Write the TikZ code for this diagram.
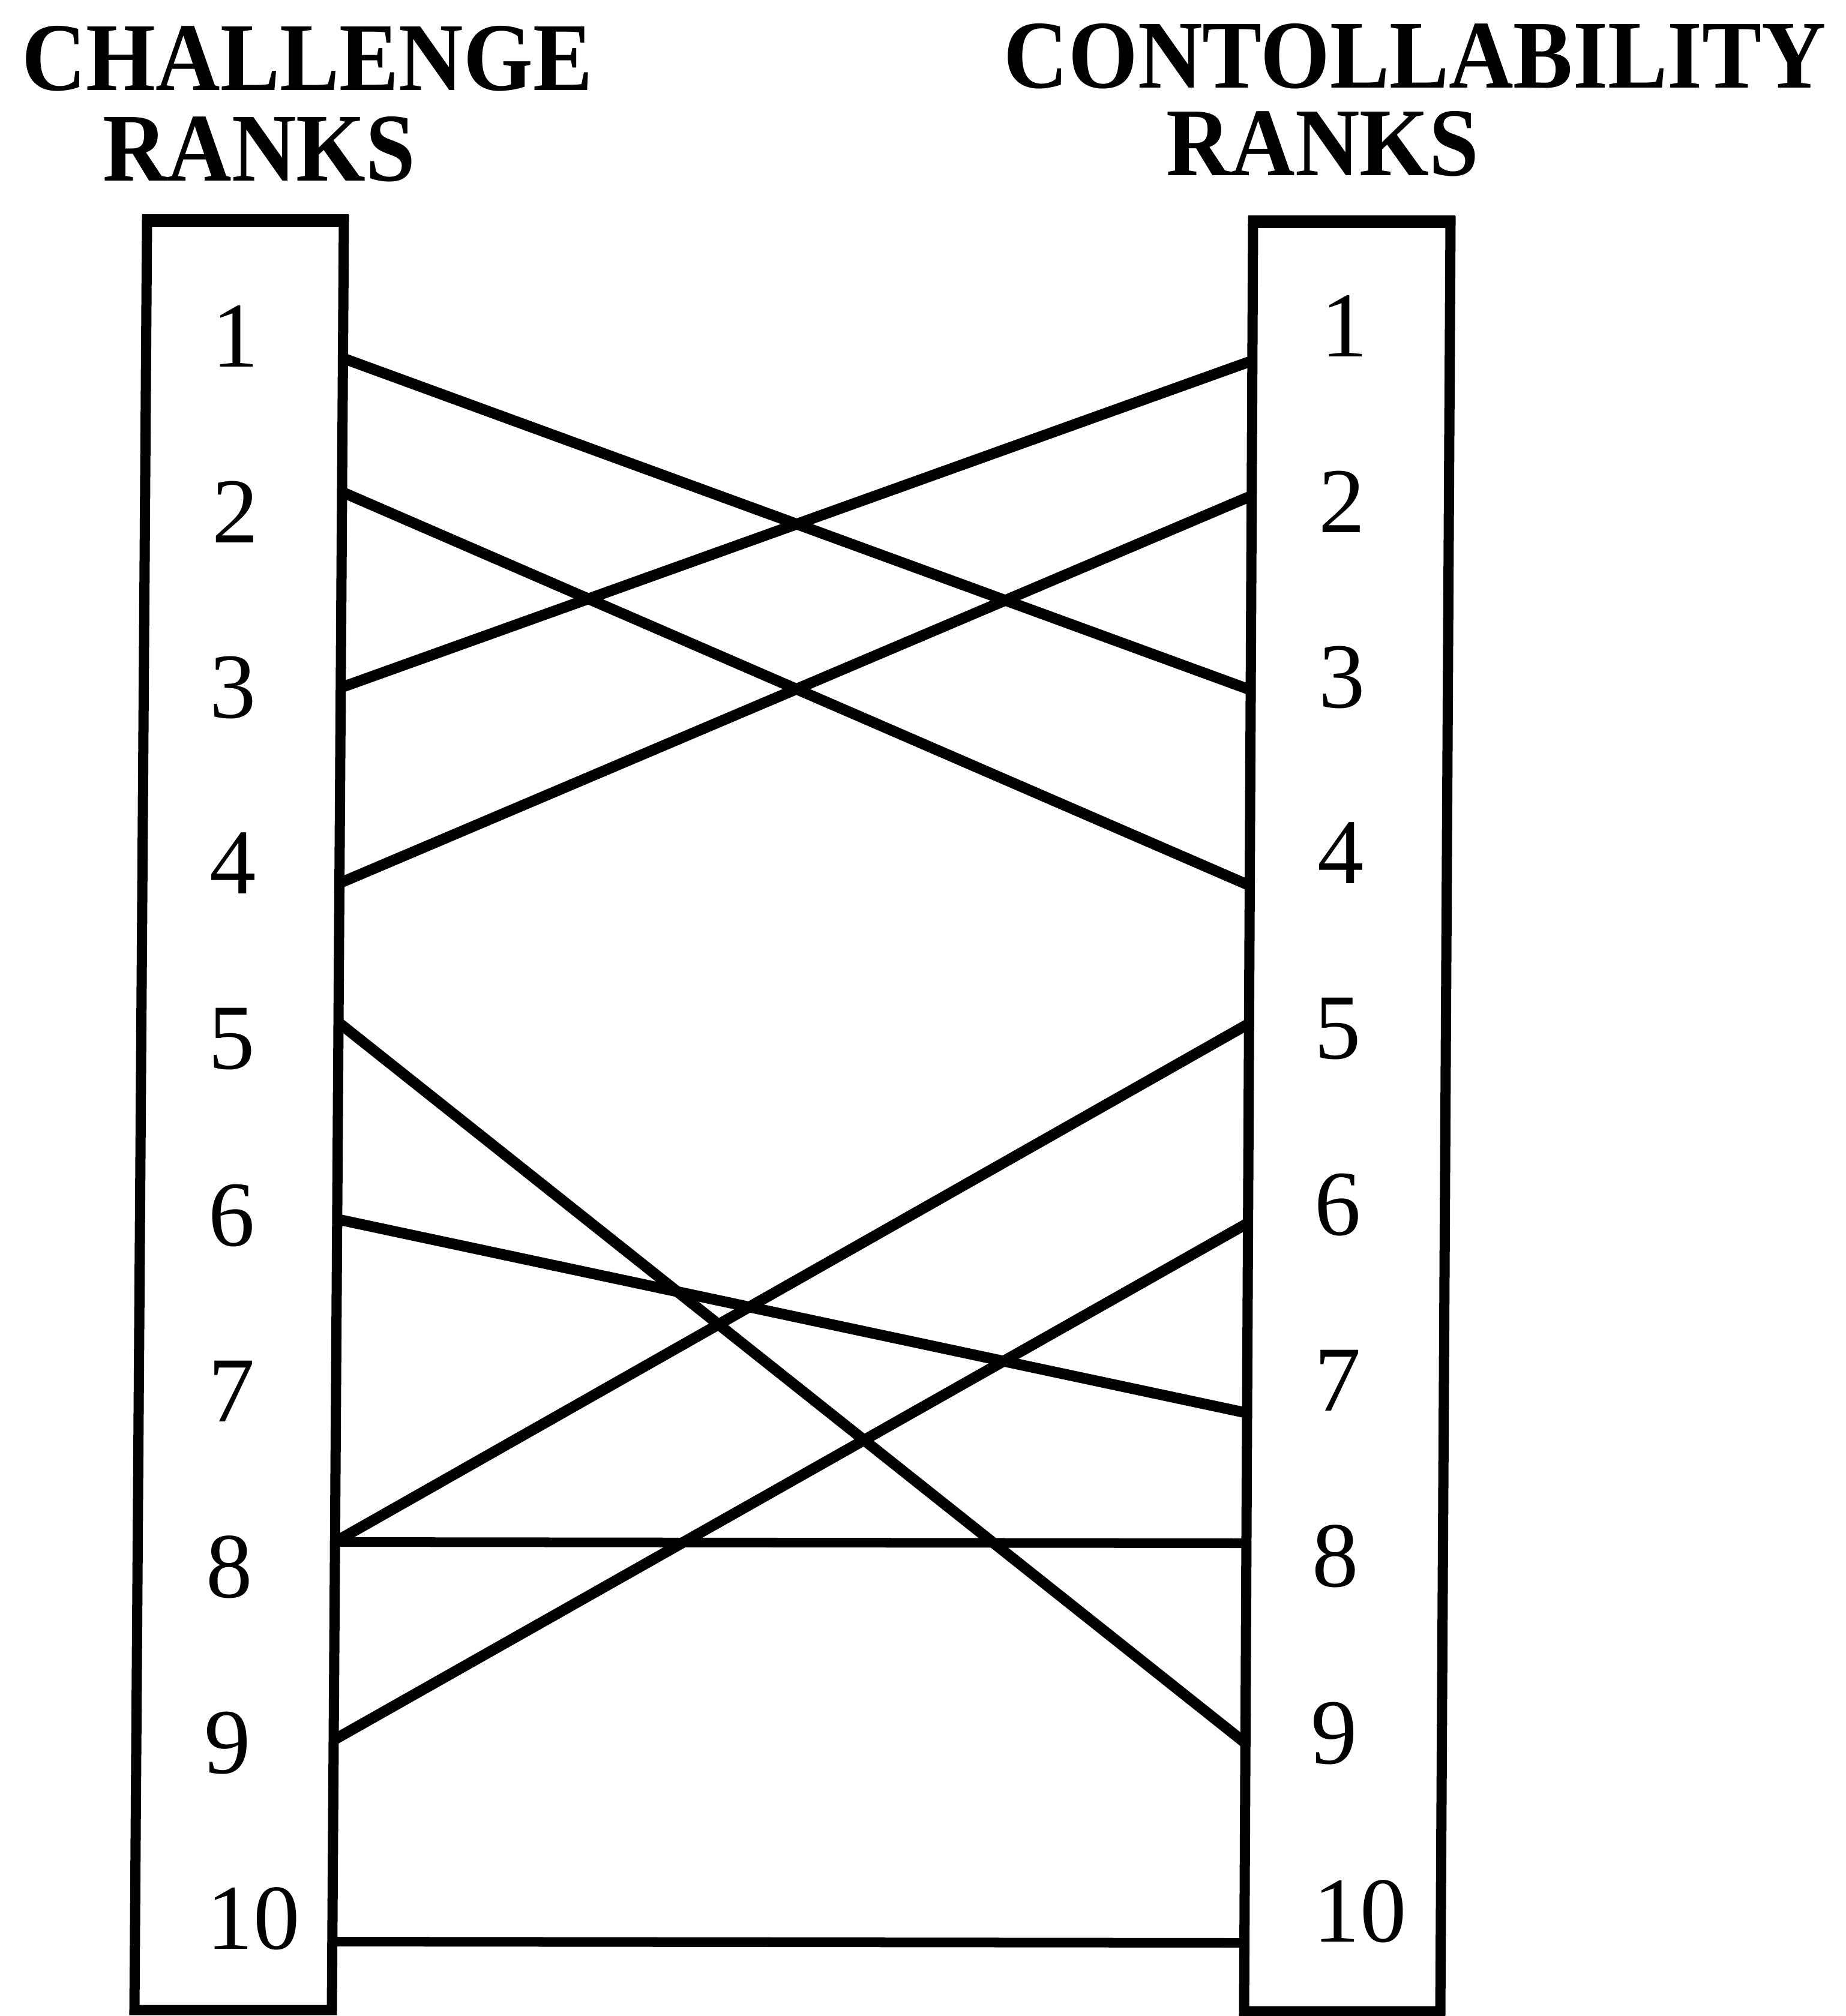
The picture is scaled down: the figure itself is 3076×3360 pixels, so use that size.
\documentclass[tikz,border=0pt]{standalone}
\usepackage{fontspec}
\setmainfont{Liberation Serif}
\begin{document}
\begin{tikzpicture}[x=0.01cm,y=-0.01cm,
  boxline/.style={line width=0.17cm, line join=miter},
  boxtop/.style={line width=0.21cm},
  link/.style={line width=0.18cm},
  flatlink/.style={line width=0.16cm},
  title/.style={font=\fontsize{46}{50}\selectfont\bfseries, inner sep=0pt, anchor=center},
  num/.style={font=\fontsize{44}{48}\selectfont, inner sep=0pt, anchor=center}]
\useasboundingbox (0,0) rectangle (3076,3360);
\fill[white] (0,0) rectangle (3076,3360);

% titles
\node[title] (t1) at (512,98) {\scalebox{0.92}[1]{CHALLENGE}};
\node[title] (t2) at (432,249) {\scalebox{0.92}[1]{RANKS}};
\node[title] (t3) at (2358,94) {\scalebox{0.92}[1]{CONTOLLABILITY}};
\node[title] (t4) at (2204,240) {\scalebox{0.92}[1]{RANKS}};

% boxes
\draw[boxline] (245,367) -- (573,367) -- (553,3350) -- (224,3350) -- cycle;
\draw[boxtop] (237,367) -- (581,367);
\draw[boxline] (2088,369) -- (2417,369) -- (2400,3352) -- (2073,3352) -- cycle;
\draw[boxtop] (2080,369) -- (2425,369);

% left numbers
\node[num] (a1) at (392,560) {1};
\node[num] (a2) at (392,853) {2};
\node[num] (a3) at (388,1146) {3};
\node[num] (a4) at (388,1439) {4};
\node[num] (a5) at (386,1732) {5};
\node[num] (a6) at (386,2026) {6};
\node[num] (a7) at (386,2319) {7};
\node[num] (a8) at (382,2612) {8};
\node[num] (a9) at (379,2905) {9};
\node[num] (a10) at (422,3198) {10};

% right numbers
\node[num] (b1) at (2240,543) {1};
\node[num] (b2) at (2236,836) {2};
\node[num] (b3) at (2236,1129) {3};
\node[num] (b4) at (2234,1422) {4};
\node[num] (b5) at (2229,1715) {5};
\node[num] (b6) at (2229,2008) {6};
\node[num] (b7) at (2229,2301) {7};
\node[num] (b8) at (2225,2594) {8};
\node[num] (b9) at (2223,2889) {9};
\node[num] (b10) at (2266,3186) {10};

% connector ends on left box
\coordinate (l1) at (571.5,597);
\coordinate (l2) at (570,820);
\coordinate (l3) at (568,1146);
\coordinate (l4) at (565.6,1472);
\coordinate (l5) at (564,1704);
\coordinate (l6) at (562,2032);
\coordinate (l8) at (558,2570);
\coordinate (l9) at (556,2900);
\coordinate (l10) at (554,3236);

% connector ends on right box
\coordinate (r1) at (2087,601);
\coordinate (r2) at (2086,826);
\coordinate (r3) at (2084,1150);
\coordinate (r4) at (2082.4,1476);
\coordinate (r5) at (2081,1706);
\coordinate (r6) at (2080,2038);
\coordinate (r7) at (2078,2355);
\coordinate (r8) at (2077,2572);
\coordinate (r9) at (2075,2905);
\coordinate (r10) at (2073.6,3238);

% connectors
\draw[link] (l1) -- (r3);
\draw[link] (l2) -- (r4);
\draw[link] (l3) -- (r1);
\draw[link] (l4) -- (r2);
\draw[link] (l5) -- (r9);
\draw[link] (l6) -- (r7);
\draw[link] (l8) -- (r5);
\draw[flatlink] (l8) -- (r8);
\draw[link] (l9) -- (r6);
\draw[flatlink] (l10) -- (r10);
\end{tikzpicture}
\end{document}
